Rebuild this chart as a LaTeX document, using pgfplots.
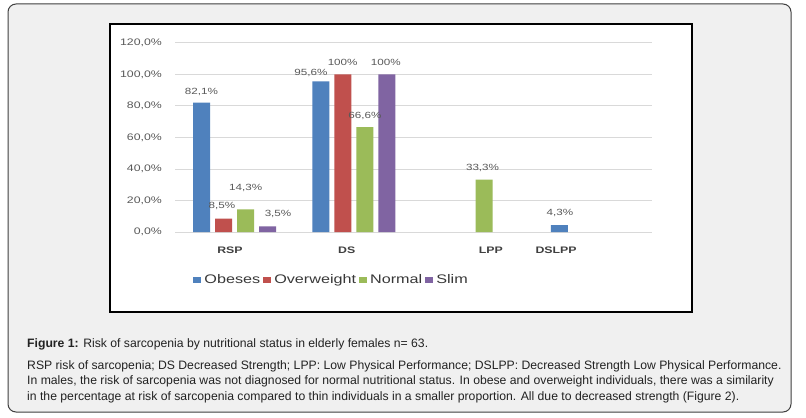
\documentclass[border=0pt]{standalone}
\usepackage{fontspec}
\setmainfont{Liberation Sans}
\newfontfamily\chartfont[FakeStretch=1.3]{Liberation Sans}
\usepackage{pgfplots}
\pgfplotsset{compat=1.18}
\definecolor{cObese}{HTML}{4F81BD}
\definecolor{cOver}{HTML}{C0504D}
\definecolor{cNorm}{HTML}{9BBB59}
\definecolor{cSlim}{HTML}{8064A2}
\definecolor{bgGray}{HTML}{F0F0F0}
\definecolor{tickGray}{HTML}{595959}
\definecolor{gridGray}{HTML}{D9D9D9}
\definecolor{capText}{HTML}{222222}
\begin{document}
\begin{tikzpicture}[x=1bp,y=1bp]
\path[use as bounding box] (0,0) rectangle (806,417);
\fill[white] (0,0) rectangle (806,417);
\draw[draw=black!75, fill=bgGray, rounded corners=8bp, line width=1bp] (8,5) rectangle (791,413);
\draw[fill=white, draw=black, line width=2bp] (110,105) rectangle (692,393);
\begin{axis}[
  at={(175bp,185bp)}, anchor=south west,
  width=477bp, height=189bp, scale only axis,
  xmin=-0.5, xmax=3.5, ymin=0, ymax=120,
  ytick={0,20,40,60,80,100,120},
  yticklabels={{0,0\%},{20,0\%},{40,0\%},{60,0\%},{80,0\%},{100,0\%},{120,0\%}},
  ymajorgrids, grid style={draw=gridGray, line width=1bp},
  axis line style={draw=none},
  major tick length=0pt,
  xtick={-0.039,0.94,2.148,2.695},
  xticklabels={RSP,DS,LPP,DSLPP},
  yticklabel style={font=\chartfont\fontsize{9.5}{10}\selectfont, text=tickGray, anchor=east, inner sep=0pt, xshift=-13bp},
  xticklabel style={font=\chartfont\bfseries\fontsize{9.5}{10}\selectfont, text=black!75, anchor=north, inner sep=0pt, yshift=-15bp},
  legend image code/.code={\fill[#1] (0bp,-2.8bp) rectangle (8bp,2.8bp);},
  legend style={at={(0.0377,-0.254)}, anchor=west, draw=none, fill=none,
    legend columns=4, font=\chartfont\fontsize{12.5}{13}\selectfont, text=black!78,
    inner sep=0pt, outer sep=0pt, nodes={inner sep=0pt},
    /tikz/every odd column/.append style={column sep=3.5bp},
    /tikz/every even column/.append style={column sep=2.5bp}},
  clip=false,
]
\addplot[ybar, bar width=0.143, bar shift=-0.276, fill=cObese, draw=none] coordinates {(0,82.1) (1,95.6) (3,4.3)};
\addplot[ybar, bar width=0.143, bar shift=-0.092, fill=cOver, draw=none] coordinates {(0,8.5) (1,100)};
\addplot[ybar, bar width=0.143, bar shift=0.092, fill=cNorm, draw=none] coordinates {(0,14.3) (1,66.6) (2,33.3)};
\addplot[ybar, bar width=0.143, bar shift=0.276, fill=cSlim, draw=none] coordinates {(0,3.5) (1,100)};
\legend{Obeses,Overweight,Normal,Slim}
\addplot[only marks, mark=none, nodes near coords, point meta=explicit symbolic,
  every node near coord/.append style={anchor=center, inner sep=0pt, font=\chartfont\fontsize{9}{10}\selectfont, text=tickGray}]
  coordinates {
  (-0.278,89.1) [82,1\%]
  (-0.106,16.7) [8,5\%]
  (0.093,27.7) [14,3\%]
  (0.364,11.4) [3,5\%]
  (0.640,100.8) [95,6\%]
  (0.906,107.5) [100\%]
  (1.093,73.7) [66,6\%]
  (1.267,107.5) [100\%]
  (2.079,40.8) [33,3\%]
  (2.728,11.9) [4,3\%]
  };
\end{axis}
\begin{scope}[every node/.style={anchor=base west, inner sep=0pt, text=capText, font=\fontsize{12.25}{14}\selectfont}]
\node at (27,70) {\textbf{Figure 1:} Risk of sarcopenia by nutritional status in elderly females n= 63.};
\node at (27,48) {RSP risk of sarcopenia; DS Decreased Strength; LPP: Low Physical Performance; DSLPP: Decreased Strength Low Physical Performance.};
\node at (27,32.5) {In males, the risk of sarcopenia was not diagnosed for normal nutritional status. In obese and overweight individuals, there was a similarity};
\node at (27,17) {in the percentage at risk of sarcopenia compared to thin individuals in a smaller proportion. All due to decreased strength (Figure 2).};
\end{scope}
\end{tikzpicture}
\end{document}
